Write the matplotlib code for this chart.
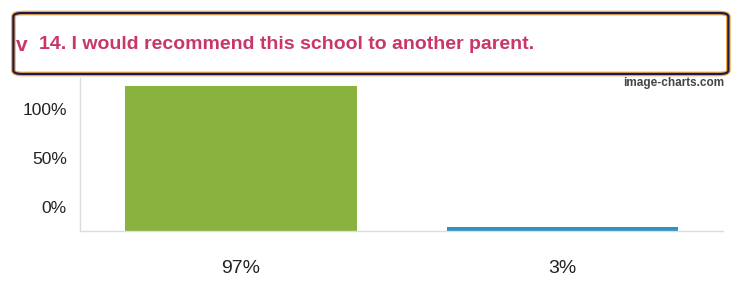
import matplotlib
matplotlib.use("Agg")
import matplotlib.pyplot as plt
from matplotlib.patches import FancyBboxPatch

categories = ["97%", "3%"]
values = [97, 3]
colors = ["#8ab23f", "#2e93c0"]
tick_labels = ["0%", "50%", "100%"]
tick_pos = [16, 49, 82]
title = "14. I would recommend this school to another parent."

font = ["Liberation Sans", "DejaVu Sans"]

fig = plt.figure(figsize=(7.44, 2.90), dpi=100)
ax = fig.add_axes([0.1075, 0.2034, 0.8645, 0.527])

ax.bar(range(len(values)), values, width=0.72, color=colors)
ax.set_xlim(-0.5, 1.5)
ax.set_ylim(0, 102.3)
ax.set_xticks(range(len(categories)))
ax.set_xticklabels(categories, fontfamily=font, fontsize=14, color="#222222")
ax.set_yticks(tick_pos)
ax.set_yticklabels(tick_labels, fontfamily=font, fontsize=12.5, color="#222222")
ax.tick_params(length=0)
ax.tick_params(axis="x", pad=21)
ax.tick_params(axis="y", pad=9.5)
for s in ["top", "right"]:
    ax.spines[s].set_visible(False)
for s in ["left", "bottom"]:
    ax.spines[s].set_color("#dddddd")
    ax.spines[s].set_linewidth(1)

# title box
outer = FancyBboxPatch((0.018, 0.745), 0.961, 0.21, boxstyle="round,pad=0,rounding_size=0.012",
                       transform=fig.transFigure, facecolor="white", edgecolor="#f2b045",
                       linewidth=3.4, zorder=5)
inner = FancyBboxPatch((0.018, 0.745), 0.961, 0.21, boxstyle="round,pad=0,rounding_size=0.012",
                       transform=fig.transFigure, facecolor="none", edgecolor="#1c1a55",
                       linewidth=1.6, zorder=6)
fig.patches.extend([outer, inner])
fig.text(0.021, 0.842, "v", fontfamily=font, fontweight="bold", fontsize=15,
         color="#c8366c", va="center", ha="left", zorder=7)
fig.text(0.053, 0.848, title, fontfamily=font, fontweight="bold", fontsize=14,
         color="#c8366c", va="center", ha="left", zorder=7)

fig.text(0.973, 0.715, "image-charts.com", fontfamily=font, fontweight="bold", fontsize=8.5,
         color="#444444", ha="right", va="center")

fig.savefig("out.png", dpi=100)
